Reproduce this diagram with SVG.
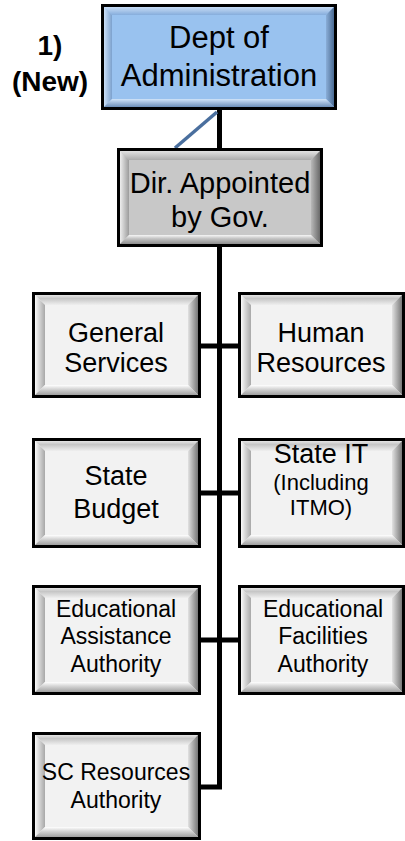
<svg xmlns="http://www.w3.org/2000/svg" width="405" height="841" viewBox="0 0 405 841">
<defs>
<linearGradient id="wT" x1="0" y1="0" x2="0" y2="1"><stop offset="0" stop-color="#E4E4E4"/><stop offset="0.35" stop-color="#C6C6C6"/><stop offset="1" stop-color="#EFEFEF"/></linearGradient>
<linearGradient id="wL" x1="0" y1="0" x2="1" y2="0"><stop offset="0" stop-color="#FAFAFA"/><stop offset="0.4" stop-color="#D8D8D8"/><stop offset="1" stop-color="#A8A8A8"/></linearGradient>
<linearGradient id="wR" x1="1" y1="0" x2="0" y2="0"><stop offset="0" stop-color="#777777"/><stop offset="1" stop-color="#E2E2E2"/></linearGradient>
<linearGradient id="wB" x1="0" y1="1" x2="0" y2="0"><stop offset="0" stop-color="#A0A0A0"/><stop offset="0.6" stop-color="#D6D6D6"/><stop offset="1" stop-color="#FFFFFF"/></linearGradient>
<linearGradient id="gT" x1="0" y1="0" x2="0" y2="1"><stop offset="0" stop-color="#E2E2E2"/><stop offset="1" stop-color="#ABABAB"/></linearGradient>
<linearGradient id="gL" x1="0" y1="0" x2="1" y2="0"><stop offset="0" stop-color="#EEEEEE"/><stop offset="1" stop-color="#9C9C9C"/></linearGradient>
<linearGradient id="gR" x1="1" y1="0" x2="0" y2="0"><stop offset="0" stop-color="#6A6A6A"/><stop offset="1" stop-color="#B9B9B9"/></linearGradient>
<linearGradient id="gB" x1="0" y1="1" x2="0" y2="0"><stop offset="0" stop-color="#8E8E8E"/><stop offset="0.6" stop-color="#C4C4C4"/><stop offset="1" stop-color="#F6F6F6"/></linearGradient>
<linearGradient id="bT" x1="0" y1="0" x2="0" y2="1"><stop offset="0" stop-color="#C8DDF6"/><stop offset="1" stop-color="#86ADDC"/></linearGradient>
<linearGradient id="bL" x1="0" y1="0" x2="1" y2="0"><stop offset="0" stop-color="#CBE0F8"/><stop offset="1" stop-color="#7CA1CD"/></linearGradient>
<linearGradient id="bR" x1="1" y1="0" x2="0" y2="0"><stop offset="0" stop-color="#4B6B93"/><stop offset="1" stop-color="#8AAED8"/></linearGradient>
<linearGradient id="bB" x1="0" y1="1" x2="0" y2="0"><stop offset="0" stop-color="#6C8EB8"/><stop offset="1" stop-color="#D0E3F8"/></linearGradient>
</defs>
<style>
.frame{stroke:#000;stroke-width:3}
.w{fill:#F2F2F2}.g{fill:#C8C8C8}.b{fill:#99C2EF}
.t{font-family:"Liberation Sans",Arial,sans-serif;fill:#000;text-anchor:middle}
.XL{font-size:31px}.X{font-size:29px}.L{font-size:27px}.M{font-size:23px}.S{font-size:22px}
.lbl{font-family:"Liberation Sans",Arial,sans-serif;font-weight:bold;font-size:28px;text-anchor:middle;fill:#000}
.conn{fill:none;stroke:#000;stroke-width:5;stroke-linejoin:miter}
</style>
<g id="connectors">
<path class="conn" d="M219.5 110 V787 H201"/>
<path class="conn" d="M201 346 H238"/>
<path class="conn" d="M201 493 H238"/>
<path class="conn" d="M201 640 H238"/>
<line x1="217" y1="112" x2="175" y2="148" stroke="#4A6F9E" stroke-width="3.5"/>
</g>
<g id="label">
<text class="lbl" x="50" y="55">1)</text>
<text class="lbl" x="50" y="91">(New)</text>
</g>
<g id="dept">
<rect class="frame b" x="102.5" y="5.5" width="233" height="103"/>
<polygon fill="url(#bT)" points="104,7 334,7 326,15 112,15"/>
<polygon fill="url(#bL)" points="104,7 112,15 112,99 104,107"/>
<polygon fill="url(#bR)" points="334,7 334,107 326,99 326,15"/>
<polygon fill="url(#bB)" points="104,107 334,107 326,99 112,99"/>
<text class="t XL" x="219" y="48">Dept of</text>
<text class="t XL" x="219" y="86">Administration</text>
</g>
<g id="director">
<rect class="frame g" x="118.5" y="149.5" width="203" height="96"/>
<polygon fill="url(#gT)" points="120,151 320,151 311,160 129,160"/>
<polygon fill="url(#gL)" points="120,151 129,160 129,235 120,244"/>
<polygon fill="url(#gR)" points="320,151 320,244 311,235 311,160"/>
<polygon fill="url(#gB)" points="120,244 320,244 311,235 129,235"/>
<text class="t X" x="220" y="193">Dir. Appointed</text>
<text class="t X" x="220" y="227">by Gov.</text>
</g>
<g id="general-services">
<rect class="frame w" x="33.5" y="293.5" width="166" height="103"/>
<polygon fill="url(#wT)" points="35,295 198,295 188,305 45,305"/>
<polygon fill="url(#wL)" points="35,295 45,305 45,385 35,395"/>
<polygon fill="url(#wR)" points="198,295 198,395 188,385 188,305"/>
<polygon fill="url(#wB)" points="35,395 198,395 188,385 45,385"/>
<text class="t L" x="116" y="342">General</text>
<text class="t L" x="116" y="372">Services</text>
</g>
<g id="human-resources">
<rect class="frame w" x="239.5" y="293.5" width="164" height="103"/>
<polygon fill="url(#wT)" points="241,295 402,295 392,305 251,305"/>
<polygon fill="url(#wL)" points="241,295 251,305 251,385 241,395"/>
<polygon fill="url(#wR)" points="402,295 402,395 392,385 392,305"/>
<polygon fill="url(#wB)" points="241,395 402,395 392,385 251,385"/>
<text class="t L" x="321" y="342">Human</text>
<text class="t L" x="321" y="372">Resources</text>
</g>
<g id="state-budget">
<rect class="frame w" x="33.5" y="439.5" width="166" height="107"/>
<polygon fill="url(#wT)" points="35,441 198,441 188,451 45,451"/>
<polygon fill="url(#wL)" points="35,441 45,451 45,535 35,545"/>
<polygon fill="url(#wR)" points="198,441 198,545 188,535 188,451"/>
<polygon fill="url(#wB)" points="35,545 198,545 188,535 45,535"/>
<text class="t L" x="116" y="485">State</text>
<text class="t L" x="116" y="518">Budget</text>
</g>
<g id="state-it">
<rect class="frame w" x="239.5" y="439.5" width="164" height="107"/>
<polygon fill="url(#wT)" points="241,441 402,441 392,451 251,451"/>
<polygon fill="url(#wL)" points="241,441 251,451 251,535 241,545"/>
<polygon fill="url(#wR)" points="402,441 402,545 392,535 392,451"/>
<polygon fill="url(#wB)" points="241,545 402,545 392,535 251,535"/>
<text class="t L" x="321" y="463">State IT</text>
<text class="t S" x="321" y="490">(Including</text>
<text class="t S" x="321" y="515">ITMO)</text>
</g>
<g id="educational-assistance">
<rect class="frame w" x="33.5" y="586.5" width="166" height="107"/>
<polygon fill="url(#wT)" points="35,588 198,588 188,598 45,598"/>
<polygon fill="url(#wL)" points="35,588 45,598 45,682 35,692"/>
<polygon fill="url(#wR)" points="198,588 198,692 188,682 188,598"/>
<polygon fill="url(#wB)" points="35,692 198,692 188,682 45,682"/>
<text class="t M" x="116" y="617">Educational</text>
<text class="t M" x="116" y="644">Assistance</text>
<text class="t M" x="116" y="672">Authority</text>
</g>
<g id="educational-facilities">
<rect class="frame w" x="239.5" y="586.5" width="164" height="107"/>
<polygon fill="url(#wT)" points="241,588 402,588 392,598 251,598"/>
<polygon fill="url(#wL)" points="241,588 251,598 251,682 241,692"/>
<polygon fill="url(#wR)" points="402,588 402,692 392,682 392,598"/>
<polygon fill="url(#wB)" points="241,692 402,692 392,682 251,682"/>
<text class="t M" x="323" y="617">Educational</text>
<text class="t M" x="323" y="644">Facilities</text>
<text class="t M" x="323" y="672">Authority</text>
</g>
<g id="sc-resources">
<rect class="frame w" x="33.5" y="733.5" width="166" height="105"/>
<polygon fill="url(#wT)" points="35,735 198,735 188,745 45,745"/>
<polygon fill="url(#wL)" points="35,735 45,745 45,827 35,837"/>
<polygon fill="url(#wR)" points="198,735 198,837 188,827 188,745"/>
<polygon fill="url(#wB)" points="35,837 198,837 188,827 45,827"/>
<text class="t M" x="116" y="780">SC Resources</text>
<text class="t M" x="116" y="808">Authority</text>
</g>
</svg>
